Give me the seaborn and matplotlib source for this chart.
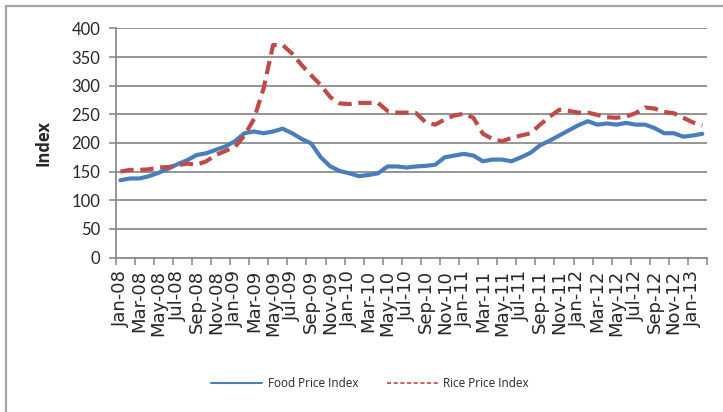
import pandas as pd
import seaborn as sns
import matplotlib.pyplot as plt
from matplotlib.lines import Line2D

# monthly values Jan-08 .. Feb-13
months = pd.date_range("2008-01-01", "2013-02-01", freq="MS")
food = [135, 138, 138, 142, 148, 155, 163, 170, 179, 182, 188, 194,
        203, 217, 220, 217, 220, 225, 217, 207, 199, 175, 159, 151,
        147, 142, 144, 147, 159, 159, 157, 159, 160, 162, 175, 178,
        181, 178, 168, 171, 171, 168, 175, 183, 196, 204, 213, 222,
        231, 238, 232, 234, 232, 235, 232, 232, 226, 217, 217, 211,
        213, 216]
rice = [150, 153, 153, 154, 157, 158, 161, 164, 162, 168, 179, 186,
        193, 213, 242, 295, 371, 371, 356, 336, 318, 301, 280, 269,
        268, 270, 270, 270, 256, 253, 253, 252, 236, 232, 241, 248,
        251, 244, 216, 207, 203, 209, 213, 217, 232, 246, 258, 256,
        253, 253, 249, 245, 244, 246, 252, 262, 260, 254, 252, 244,
        236, 231]
month_labels = [m.strftime("%b-%y") for m in months]

df = pd.DataFrame({"i": range(len(months)), "Food Price Index": food,
                   "Rice Price Index": rice})
long = df.melt(id_vars="i", var_name="series", value_name="value")

sns.set_style("white")
fig = plt.figure(figsize=(7.23, 4.12), dpi=100)
ax = fig.add_axes([0.160, 0.375, 0.818, 0.556])

blue, red = "#4A7EBB", "#BE4B48"
sns.lineplot(data=long, x="i", y="value", hue="series", style="series",
             palette=[blue, red], dashes=[(None, None), (3.2, 1.6)],
             linewidth=3, legend=False, ax=ax)

grid_c = "#8c8c8c"
ax.set_ylim(0, 400)
ax.set_yticks(range(0, 401, 50))
ax.set_xlim(-0.5, len(months) - 0.5)
ax.set_xticks([k - 0.5 for k in range(0, len(months) + 1, 2)])
ax.set_xticklabels([])
ax.set_xticks(range(0, len(months), 2), minor=True)
ax.set_xticklabels(month_labels[::2], minor=True, rotation=90,
                   family="DejaVu Sans", fontsize=13)
ax.tick_params(axis="x", which="minor", length=0, pad=9)
ax.tick_params(axis="x", which="major", length=5, width=1.2, color=grid_c,
               direction="out", bottom=True)
ax.tick_params(axis="y", length=5, width=1.2, color=grid_c, left=True,
               labelsize=12, pad=6)
for t in ax.get_yticklabels():
    t.set_family("Lato")
ax.grid(axis="y", color=grid_c, linewidth=1.3)
ax.set_axisbelow(True)
for s in ["top", "right"]:
    ax.spines[s].set_visible(False)
for s in ["left", "bottom"]:
    ax.spines[s].set_color(grid_c)
    ax.spines[s].set_linewidth(1.3)
ax.set_xlabel("")
ax.set_ylabel("Index", fontsize=12, fontweight="bold", family="Open Sans",
              labelpad=14)

handles = [Line2D([], [], color=blue, lw=1.5),
           Line2D([], [], color=red, lw=1.2, ls=(0, (2.5, 1.5)))]
fig.legend(handles, ["Food Price Index", "Rice Price Index"],
           loc="center", bbox_to_anchor=(0.512, 0.07), ncol=2, frameon=False,
           prop={"family": "Open Sans", "size": 8.5}, handlelength=4.3,
           columnspacing=2.4, handletextpad=0.5)

# outer chart border (cropped at right and bottom)
fig.add_artist(Line2D([5.5 / 723, 5.5 / 723], [0, 1 - 6 / 412],
                      transform=fig.transFigure, color="#a6a6a6", lw=1.6))
fig.add_artist(Line2D([5.5 / 723, 1], [1 - 6 / 412, 1 - 6 / 412],
                      transform=fig.transFigure, color="#a6a6a6", lw=1.6))

fig.savefig("out.png", dpi=100)
